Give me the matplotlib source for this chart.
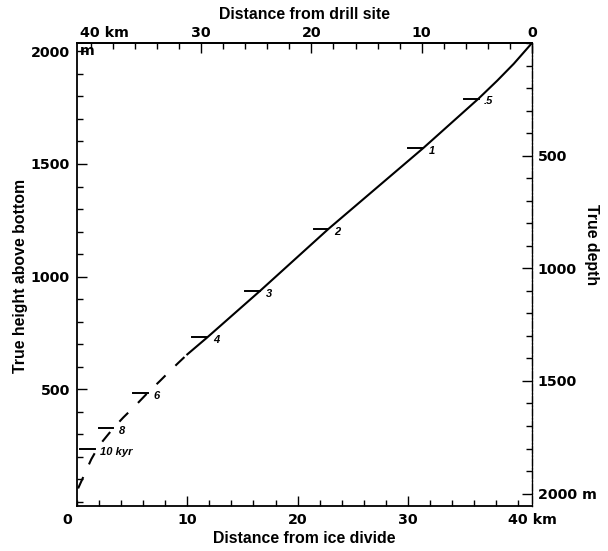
import matplotlib
matplotlib.use("Agg")
import matplotlib.pyplot as plt
from matplotlib.ticker import FixedLocator, MultipleLocator

# Particle path along the flow line: distance from the ice divide (km)
# against true height above the bed (m)
dist_km = [0.1, 0.7, 1.3, 2.0, 3.3, 4.2, 5.3, 6.4, 7.5, 8.4, 9.2, 10.0,
           11.8, 16.6, 22.8, 31.4, 36.4, 38.1, 39.6, 41.25]
height_m = [60, 125, 190, 250, 328, 375, 428, 484, 536, 580, 618, 655,
            730, 937, 1212, 1571, 1790, 1870, 1945, 2037]
dashed_until_km = 10.0

# Age marks along the path (kyr)
age_labels = ["10 kyr", "8", "6", "4", "3", "2", "1", ".5"]
age_km = [1.6, 3.3, 6.4, 11.8, 16.6, 22.8, 31.4, 36.4]
age_h = [235, 328, 484, 730, 937, 1212, 1571, 1790]

# Axis extents: drill site at the right edge, surface at the top edge
x_end_km = 41.25
surface_m = 2037
bed_m = -18

bottom_ticks = [10, 20, 30]
top_ticks = [0, 10, 20, 30]
left_ticks = [500, 1000, 1500, 2000]
left_tick_labels = ["500", "1000", "1500", "2000"]
right_ticks = [500, 1000, 1500, 2000]
right_tick_labels = ["500", "1000", "1500", "2000 m"]

tick_font = dict(family="DejaVu Sans", weight="bold", size=10.3)
label_font = dict(family="Liberation Sans", weight="bold", size=11.4)
mark_font = dict(family="Liberation Sans", weight="bold", style="italic",
                 size=8)

plt.rcParams["lines.scale_dashes"] = False

fig = plt.figure(figsize=(6.08, 5.51), dpi=100)
ax = fig.add_axes([77 / 608, 1 - 506 / 551, 455 / 608, 463 / 551])
ax.set_xlim(0, x_end_km)
ax.set_ylim(bed_m, surface_m)

# Path: dashed in the deep part, solid above
split = dist_km.index(dashed_until_km)
ax.plot(dist_km[:split + 1], height_m[:split + 1], color="black", lw=1.5,
        dashes=(9, 10), solid_capstyle="butt")
ax.plot(dist_km[split:], height_m[split:], color="black", lw=1.5)

# Age marks: short horizontal bar to the left of the path, label to the right
bar_km = 1.35
for lab, xk, hk in zip(age_labels, age_km, age_h):
    ax.plot([xk - bar_km, xk], [hk, hk], color="black", lw=1.4)
    ax.annotate(lab, (xk, hk), xytext=(4, -2), textcoords="offset points",
                ha="left", va="center", **mark_font)

# Frame
for side in ("left", "bottom", "top"):
    ax.spines[side].set_linewidth(1.3)
ax.spines["right"].set_linewidth(0.9)
ax.spines["right"].set_linestyle((0, (7, 2)))

# Bottom axis: distance from ice divide
ax.xaxis.set_major_locator(FixedLocator(bottom_ticks))
ax.xaxis.set_minor_locator(MultipleLocator(2))
ax.set_xticklabels([str(t) for t in bottom_ticks], fontdict=tick_font)
ax.annotate("0", xy=(0, 0), xycoords=("data", "axes fraction"),
            xytext=(-7, -5), textcoords="offset points", ha="center", va="top",
            **tick_font)
ax.annotate("40 km", xy=(40, 0), xycoords=("data", "axes fraction"),
            xytext=(-7, -5), textcoords="offset points", ha="left", va="top",
            **tick_font)

# Left axis: true height above bottom
ax.yaxis.set_major_locator(FixedLocator(left_ticks))
ax.yaxis.set_minor_locator(MultipleLocator(100))
ax.set_yticklabels(left_tick_labels, fontdict=tick_font)
ax.text(0.25, 2000, "m", ha="left", va="center", **tick_font)

ax.tick_params(which="both", direction="in", width=1.0)
ax.tick_params(which="major", length=7, pad=5)
ax.tick_params(which="minor", length=4)
ax.tick_params(axis="x", which="major", pad=5)

ax.set_xlabel("Distance from ice divide", labelpad=3, **label_font)
fig.text(21 / 608, 1 - 276 / 551, "True height above bottom", rotation=90,
         ha="center", va="center", **label_font)

# Top axis: distance from the drill site
top = ax.secondary_xaxis("top", functions=(lambda x: x_end_km - x,
                                           lambda d: x_end_km - d))
top.xaxis.set_major_locator(FixedLocator(top_ticks))
top.xaxis.set_minor_locator(MultipleLocator(2))
top.set_xticklabels([str(t) for t in top_ticks], fontdict=tick_font)
top.tick_params(which="both", direction="in", width=1.0)
top.tick_params(which="major", length=7, pad=2)
top.tick_params(which="minor", length=4)
top.spines["top"].set_linewidth(1.3)
ax.annotate("40 km", xy=(x_end_km - 40, 1), xycoords=("data", "axes fraction"),
            xytext=(-8, 2), textcoords="offset points", ha="left",
            va="bottom", **tick_font)
top.set_xlabel("Distance from drill site", labelpad=5, **label_font)

# Right axis: true depth below the surface
right = ax.secondary_yaxis("right", functions=(lambda h: surface_m - h,
                                               lambda d: surface_m - d))
right.yaxis.set_major_locator(FixedLocator(right_ticks))
right.yaxis.set_minor_locator(MultipleLocator(100))
right.set_yticklabels(right_tick_labels, fontdict=tick_font)
right.tick_params(which="both", direction="in", width=1.0)
right.tick_params(which="major", length=7, pad=4)
right.tick_params(which="minor", length=4)
right.spines["right"].set_linewidth(0.9)
right.spines["right"].set_linestyle((0, (7, 2)))

fig.text(592 / 608, 1 - 245 / 551, "True depth", rotation=-90,
         ha="center", va="center", **label_font)

fig.savefig("out.png", dpi=100)
